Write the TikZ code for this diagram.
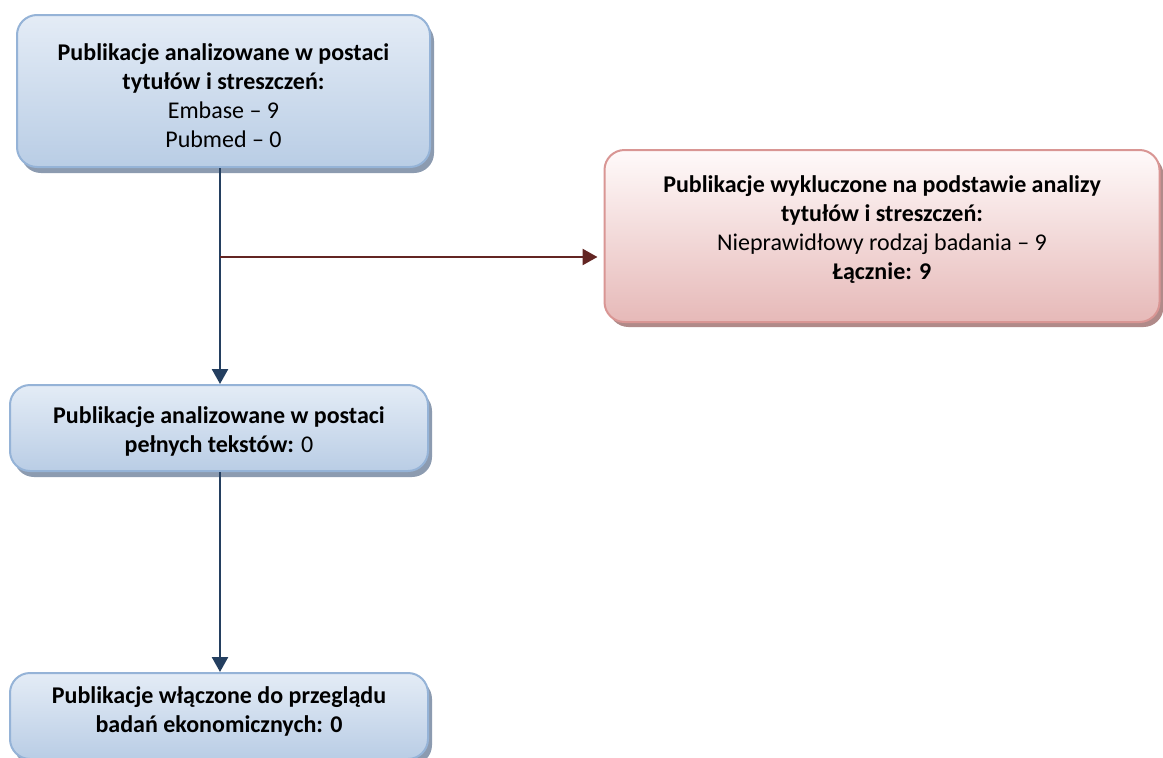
\documentclass[tikz,border=0pt]{standalone}
\usepackage{fontspec}
\setmainfont{Carlito}
\usetikzlibrary{arrows.meta,shadows,calc}
\definecolor{bfill1}{HTML}{E4ECF6}
\definecolor{bfill2}{HTML}{B9CDE5}
\definecolor{bdraw}{HTML}{95B3D7}
\definecolor{bshadow}{HTML}{8C9BB0}
\definecolor{rfill1}{HTML}{FFFAFA}
\definecolor{rfill2}{HTML}{E6B9B8}
\definecolor{rdraw}{HTML}{D99694}
\definecolor{rshadow}{HTML}{B08A89}
\definecolor{barrow}{HTML}{243F60}
\definecolor{rarrow}{HTML}{632523}
\tikzset{
  x=1pt, y=-1pt,
  boxbase/.style={rounded corners=20pt, line width=2pt, inner sep=0pt},
  bluebox/.style={boxbase, draw=bdraw, top color=bfill1, bottom color=bfill2,
    drop shadow={shadow xshift=4pt, shadow yshift=-6pt, fill=bshadow, opacity=1}},
  redbox/.style={boxbase, draw=rdraw, top color=rfill1, bottom color=rfill2,
    drop shadow={shadow xshift=4pt, shadow yshift=-5pt, fill=rshadow, opacity=1}},
  boxtext/.style={align=center, font=\fontsize{24}{29}\selectfont, inner sep=0pt},
  bluearrow/.style={draw=barrow, line width=2.5pt, -{Triangle[width=16pt,length=15pt]}},
  redarrow/.style={draw=rarrow, line width=2.5pt, -{Triangle[width=16pt,length=15pt]}},
}
\begin{document}
\begin{tikzpicture}
\clip (0,0) rectangle (1163,758);
\fill[white] (0,0) rectangle (1163,758);
\node[bluebox, minimum width=413pt, minimum height=152pt] (b1) at (223.5,91) {};
\node[boxtext] (t1) at ($(b1.center)+(0,4.5)$)
  {\textbf{Publikacje analizowane w postaci}\\ \textbf{tytułów i streszczeń:}\\ Embase – 9\\ Pubmed – 0};
\node[redbox, minimum width=555pt, minimum height=172pt] (b2) at (882,236) {};
\node[boxtext] (t2) at ($(b2.center)+(0,-6)$)
  {\textbf{Publikacje wykluczone na podstawie analizy}\\ \textbf{tytułów i streszczeń:}\\ Nieprawidłowy rodzaj badania – 9\\ \textbf{Łącznie: 9}};
\node[bluebox, minimum width=418pt, minimum height=86pt] (b3) at (219,428) {};
\node[boxtext] (t3) at ($(b3.center)+(0,3)$)
  {\textbf{Publikacje analizowane w postaci}\\ \textbf{pełnych tekstów:} 0};
\node[bluebox, minimum width=418pt, minimum height=86pt] (b4) at (219,716) {};
\node[boxtext] (t4) at ($(b4.center)+(0,-5)$)
  {\textbf{Publikacje włączone do przeglądu}\\ \textbf{badań ekonomicznych: 0}};
\coordinate (j) at (220,257);
\draw[bluearrow] (b1.south -| j) -- (b3.north -| j);
\draw[redarrow, shorten >=6pt] (j) -- (j -| b2.west);
\draw[bluearrow] (b3.south -| j) -- (b4.north -| j);
\end{tikzpicture}
\end{document}
